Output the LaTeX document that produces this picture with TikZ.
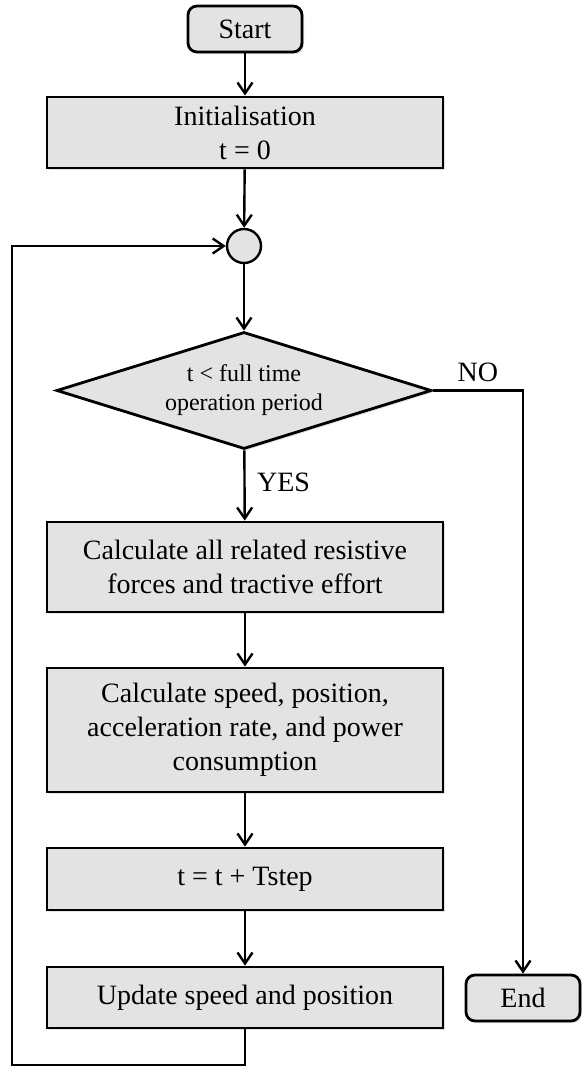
\documentclass[tikz,border=0pt]{standalone}
\usepackage{fontspec}
\setmainfont{Liberation Serif}
\usetikzlibrary{shapes.geometric,arrows.meta,shadows}

\tikzset{
  txt/.style={font=\fontsize{28}{34}\selectfont},
  box/.style={txt, draw, line width=2.8pt, fill=black!11, align=center,
    minimum width=396pt, inner sep=0pt,
    drop shadow={shadow xshift=2pt, shadow yshift=-2pt, fill=black!22}},
  term/.style={box, rounded corners=9pt, minimum width=114pt, minimum height=46pt},
  cond/.style={box, diamond, aspect=3.2, minimum width=375pt, minimum height=117pt,
    font=\fontsize{24}{29}\selectfont},
  joint/.style={draw, line width=2.4pt, circle, fill=black!11, minimum size=34pt, inner sep=0pt},
  flow/.style={line width=2.4pt, -{Straight Barb[length=11pt, width=15pt, line width=2.4pt]}},
}

\begin{document}
\begin{tikzpicture}[x=1pt, y=-1pt]
    \useasboundingbox (0,0) rectangle (581,1068);

    \node[term] (S) at (245,29) {Start};
    \node[box, minimum height=71pt] (I) at (245,132.5) {Initialisation\\t = 0};
    \node[joint] (J) at (244,246) {};
    \node[cond] (D) at (244,390.5) {t < full time\\operation period};
    \node[box, minimum height=90pt] (F) at (245,567) {Calculate all related resistive\\forces and tractive effort};
    \node[box, minimum height=124pt] (P) at (245,730) {Calculate speed, position,\\acceleration rate, and power\\consumption};
    \node[box, minimum height=62pt] (T) at (245,879) {t = t + Tstep};
    \node[box, minimum height=61pt] (U) at (245,997.5) {Update speed and position};
    \node[term] (E) at (523,998) {End};

    \coordinate (L) at (12,1065);

    \draw[flow] (S) -- (I);
    \draw[flow] (I) -- (J);
    \draw[flow] (J) -- (D);
    \draw[flow] (D) -- (F) node[txt, pos=0.45, right=8pt] {YES};
    \draw[flow] (F) -- (P);
    \draw[flow] (P) -- (T);
    \draw[flow] (T) -- (U);

    % back to the junction
    \draw[flow] (U.south) |- (L) |- (J.west);
    \draw[flow] (D.east) -| (E.north) node[txt, pos=0.25, above=4pt] {NO};

\end{tikzpicture}
\end{document}
